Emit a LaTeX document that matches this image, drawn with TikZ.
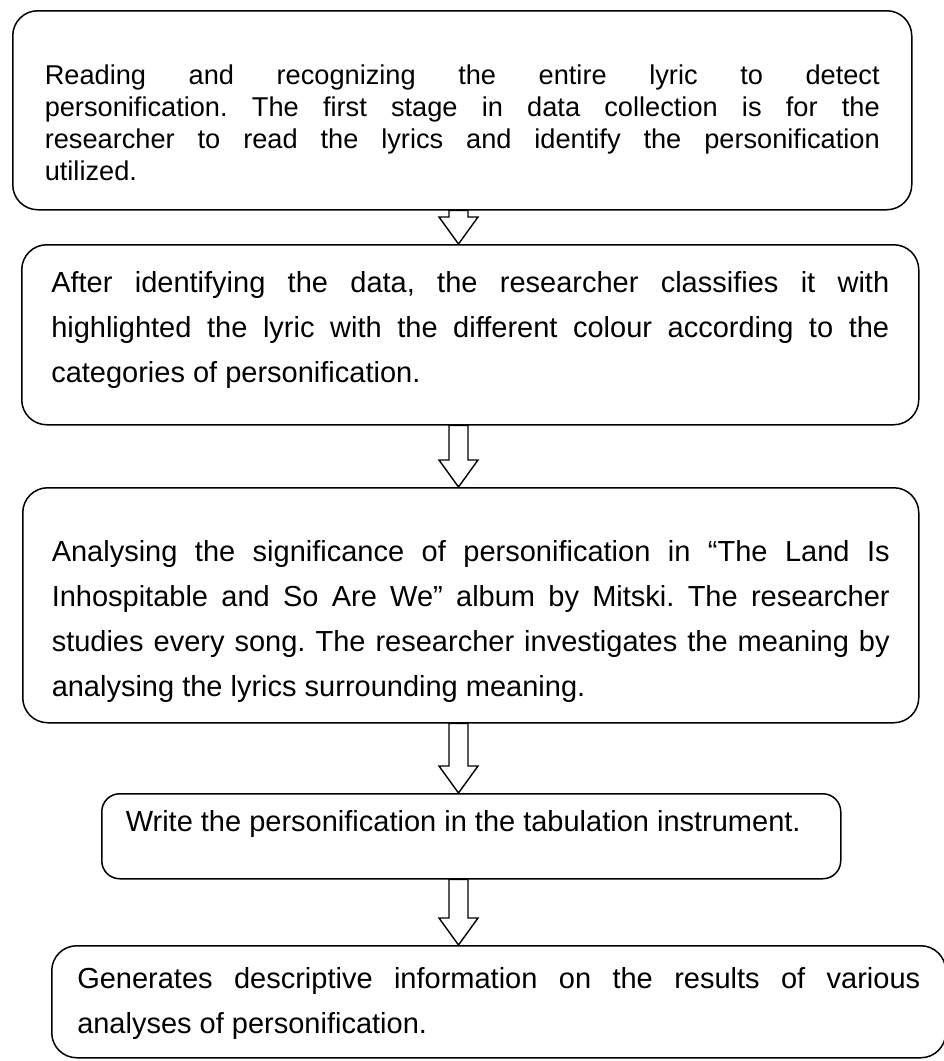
\documentclass[tikz,border=0pt]{standalone}
\usepackage{fontspec}
\setmainfont{Liberation Sans}
\usetikzlibrary{calc}
\frenchspacing
\newcommand{\jline}[1]{\makebox[\linewidth][s]{\strut #1}\par}
\newcommand{\lline}[1]{\strut #1\par}
\tikzset{
  stagebox/.style={draw, line width=1.5pt, rounded corners=25pt, inner sep=0pt,
    anchor=north west, fill=white},
  blockarrow/.style={draw, fill=white, line width=1.4pt, line join=miter,
    to path={let \p1=(\tikztostart), \p2=(\tikztotarget) in
      (\x1-9.5,\y1) -- (\x1-9.5,\y2+27) -- (\x1-19.5,\y2+27) -- (\x2,\y2)
      -- (\x1+19.5,\y2+27) -- (\x1+9.5,\y2+27) -- (\x1+9.5,\y1) -- cycle}},
}
\begin{document}
\begin{tikzpicture}[x=1pt,y=1pt]
\useasboundingbox[fill=white] (0,0) rectangle (944,-1061);
\node[stagebox, minimum width=899pt, minimum height=199pt] (b1) at (12,-10)
 {\begin{minipage}[c][199pt][t]{835pt}\frenchspacing\fontsize{27.2}{32}\selectfont\vspace*{51pt}%
 \jline{Reading and recognizing the entire lyric to detect}
 \jline{personification. The first stage in data collection is for the}
 \jline{researcher to read the lyrics and identify the personification}
 \lline{utilized.}
 \end{minipage}};
\node[stagebox, minimum width=897pt, minimum height=180pt] (b2) at (21,-244)
 {\begin{minipage}[c][180pt][t]{838pt}\frenchspacing\fontsize{29}{45}\selectfont\vspace*{16.5pt}%
 \jline{After identifying the data, the researcher classifies it with}
 \jline{highlighted the lyric with the different colour according to the}
 \lline{categories of personification.}
 \end{minipage}};
\node[stagebox, minimum width=896pt, minimum height=235pt] (b3) at (22,-487)
 {\begin{minipage}[c][235pt][t]{838pt}\frenchspacing\fontsize{29}{45}\selectfont\vspace*{42pt}%
 \jline{Analysing the significance of personification in “The Land Is}
 \jline{Inhospitable and So Are We” album by Mitski. The researcher}
 \jline{studies every song. The researcher investigates the meaning by}
 \lline{analysing the lyrics surrounding meaning.}
 \end{minipage}};
\node[stagebox, rounded corners=18pt, minimum width=739pt, minimum height=85pt] (b4) at (101,-793)
 {\begin{minipage}[c][85pt][t]{691pt}\frenchspacing\fontsize{29}{45}\selectfont\vspace*{6.5pt}%
 \lline{Write the personification in the tabulation instrument.}
 \end{minipage}};
\node[stagebox, minimum width=894pt, minimum height=112pt] (b5) at (51,-945)
 {\begin{minipage}[c][112pt][t]{843pt}\frenchspacing\fontsize{29}{45}\selectfont\vspace*{11.5pt}%
 \jline{Generates descriptive information on the results of various}
 \lline{analyses of personification.}
 \end{minipage}};
\coordinate (ax) at (458.5,0);
\draw[blockarrow] (b1.south -| ax) to (b2.north -| ax);
\draw[blockarrow] (b2.south -| ax) to (b3.north -| ax);
\draw[blockarrow] (b3.south -| ax) to (b4.north -| ax);
\draw[blockarrow] (b4.south -| ax) to (b5.north -| ax);
\end{tikzpicture}
\end{document}
